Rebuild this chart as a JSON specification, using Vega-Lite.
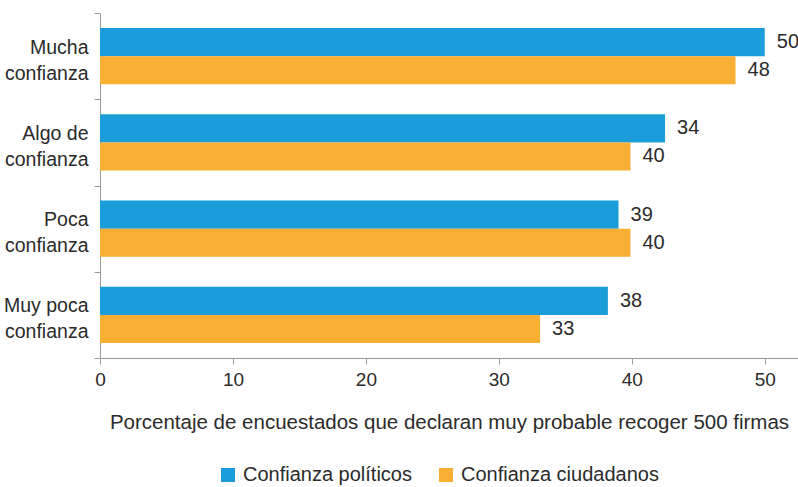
{
  "$schema": "https://vega.github.io/schema/vega-lite/v6.json",
  "width": 698,
  "height": 345,
  "autosize": "none",
  "padding": {"left": 100, "top": 13, "right": 0, "bottom": 129},
  "background": "white",
  "config": {
    "view": {"stroke": null},
    "font": "Liberation Sans, Arial, sans-serif"
  },
  "data": {
    "values": [
      {"nivel": "Mucha confianza", "serie": "Confianza políticos", "valor": 50, "etiqueta": "50"},
      {"nivel": "Mucha confianza", "serie": "Confianza ciudadanos", "valor": 47.8, "etiqueta": "48"},
      {"nivel": "Algo de confianza", "serie": "Confianza políticos", "valor": 42.5, "etiqueta": "34"},
      {"nivel": "Algo de confianza", "serie": "Confianza ciudadanos", "valor": 39.9, "etiqueta": "40"},
      {"nivel": "Poca confianza", "serie": "Confianza políticos", "valor": 39, "etiqueta": "39"},
      {"nivel": "Poca confianza", "serie": "Confianza ciudadanos", "valor": 39.9, "etiqueta": "40"},
      {"nivel": "Muy poca confianza", "serie": "Confianza políticos", "valor": 38.2, "etiqueta": "38"},
      {"nivel": "Muy poca confianza", "serie": "Confianza ciudadanos", "valor": 33.1, "etiqueta": "33"}
    ]
  },
  "encoding": {
    "y": {
      "field": "nivel",
      "type": "nominal",
      "sort": ["Mucha confianza", "Algo de confianza", "Poca confianza", "Muy poca confianza"],
      "scale": {"paddingInner": 0, "paddingOuter": 0},
      "axis": {
        "title": null,
        "tickBand": "extent",
        "tickSize": 6,
        "tickColor": "#9a9a9a",
        "domainColor": "#9a9a9a",
        "labelPadding": 6,
        "labelFontSize": 19.5,
        "labelColor": "#2b2b2b",
        "labelLineHeight": 26,
        "labelOffset": -9,
        "labelLimit": 0,
        "labelExpr": "isValid(datum.value) ? [replace(datum.value, ' confianza', ''), 'confianza'] : ''"
      }
    },
    "yOffset": {
      "field": "serie",
      "type": "nominal",
      "sort": ["Confianza políticos", "Confianza ciudadanos"],
      "scale": {"paddingInner": 0, "paddingOuter": 0.54}
    },
    "x": {
      "field": "valor",
      "type": "quantitative",
      "scale": {"domain": [0, 52.5], "nice": false},
      "axis": {
        "values": [0, 10, 20, 30, 40, 50],
        "grid": false,
        "tickSize": 6,
        "tickColor": "#9a9a9a",
        "domainColor": "#9a9a9a",
        "labelFontSize": 19,
        "labelColor": "#2b2b2b",
        "labelPadding": 6,
        "labelFlush": false,
        "title": "Porcentaje de encuestados que declaran muy probable recoger 500 firmas",
        "titleFontSize": 20.5,
        "titleFontWeight": "normal",
        "titleColor": "#2b2b2b",
        "titlePadding": 23
      }
    }
  },
  "layer": [
    {
      "mark": {"type": "bar"},
      "encoding": {
        "color": {
          "field": "serie",
          "type": "nominal",
          "sort": ["Confianza políticos", "Confianza ciudadanos"],
          "scale": {"domain": ["Confianza políticos", "Confianza ciudadanos"], "range": ["#1b9dd9", "#f9ae34"]},
          "legend": {
            "title": null,
            "orient": "none",
            "direction": "horizontal",
            "legendX": 118,
            "legendY": 452,
            "symbolType": "square",
            "symbolSize": 196,
            "symbolStrokeWidth": 0,
            "labelFontSize": 20,
            "labelLimit": 0,
            "labelColor": "#2b2b2b",
            "labelOffset": 5,
            "columnPadding": 24
          }
        }
      }
    },
    {
      "mark": {"type": "text", "align": "left", "baseline": "middle", "dx": 12, "fontSize": 20, "color": "#2b2b2b"},
      "encoding": {"text": {"field": "etiqueta"}}
    }
  ]
}
